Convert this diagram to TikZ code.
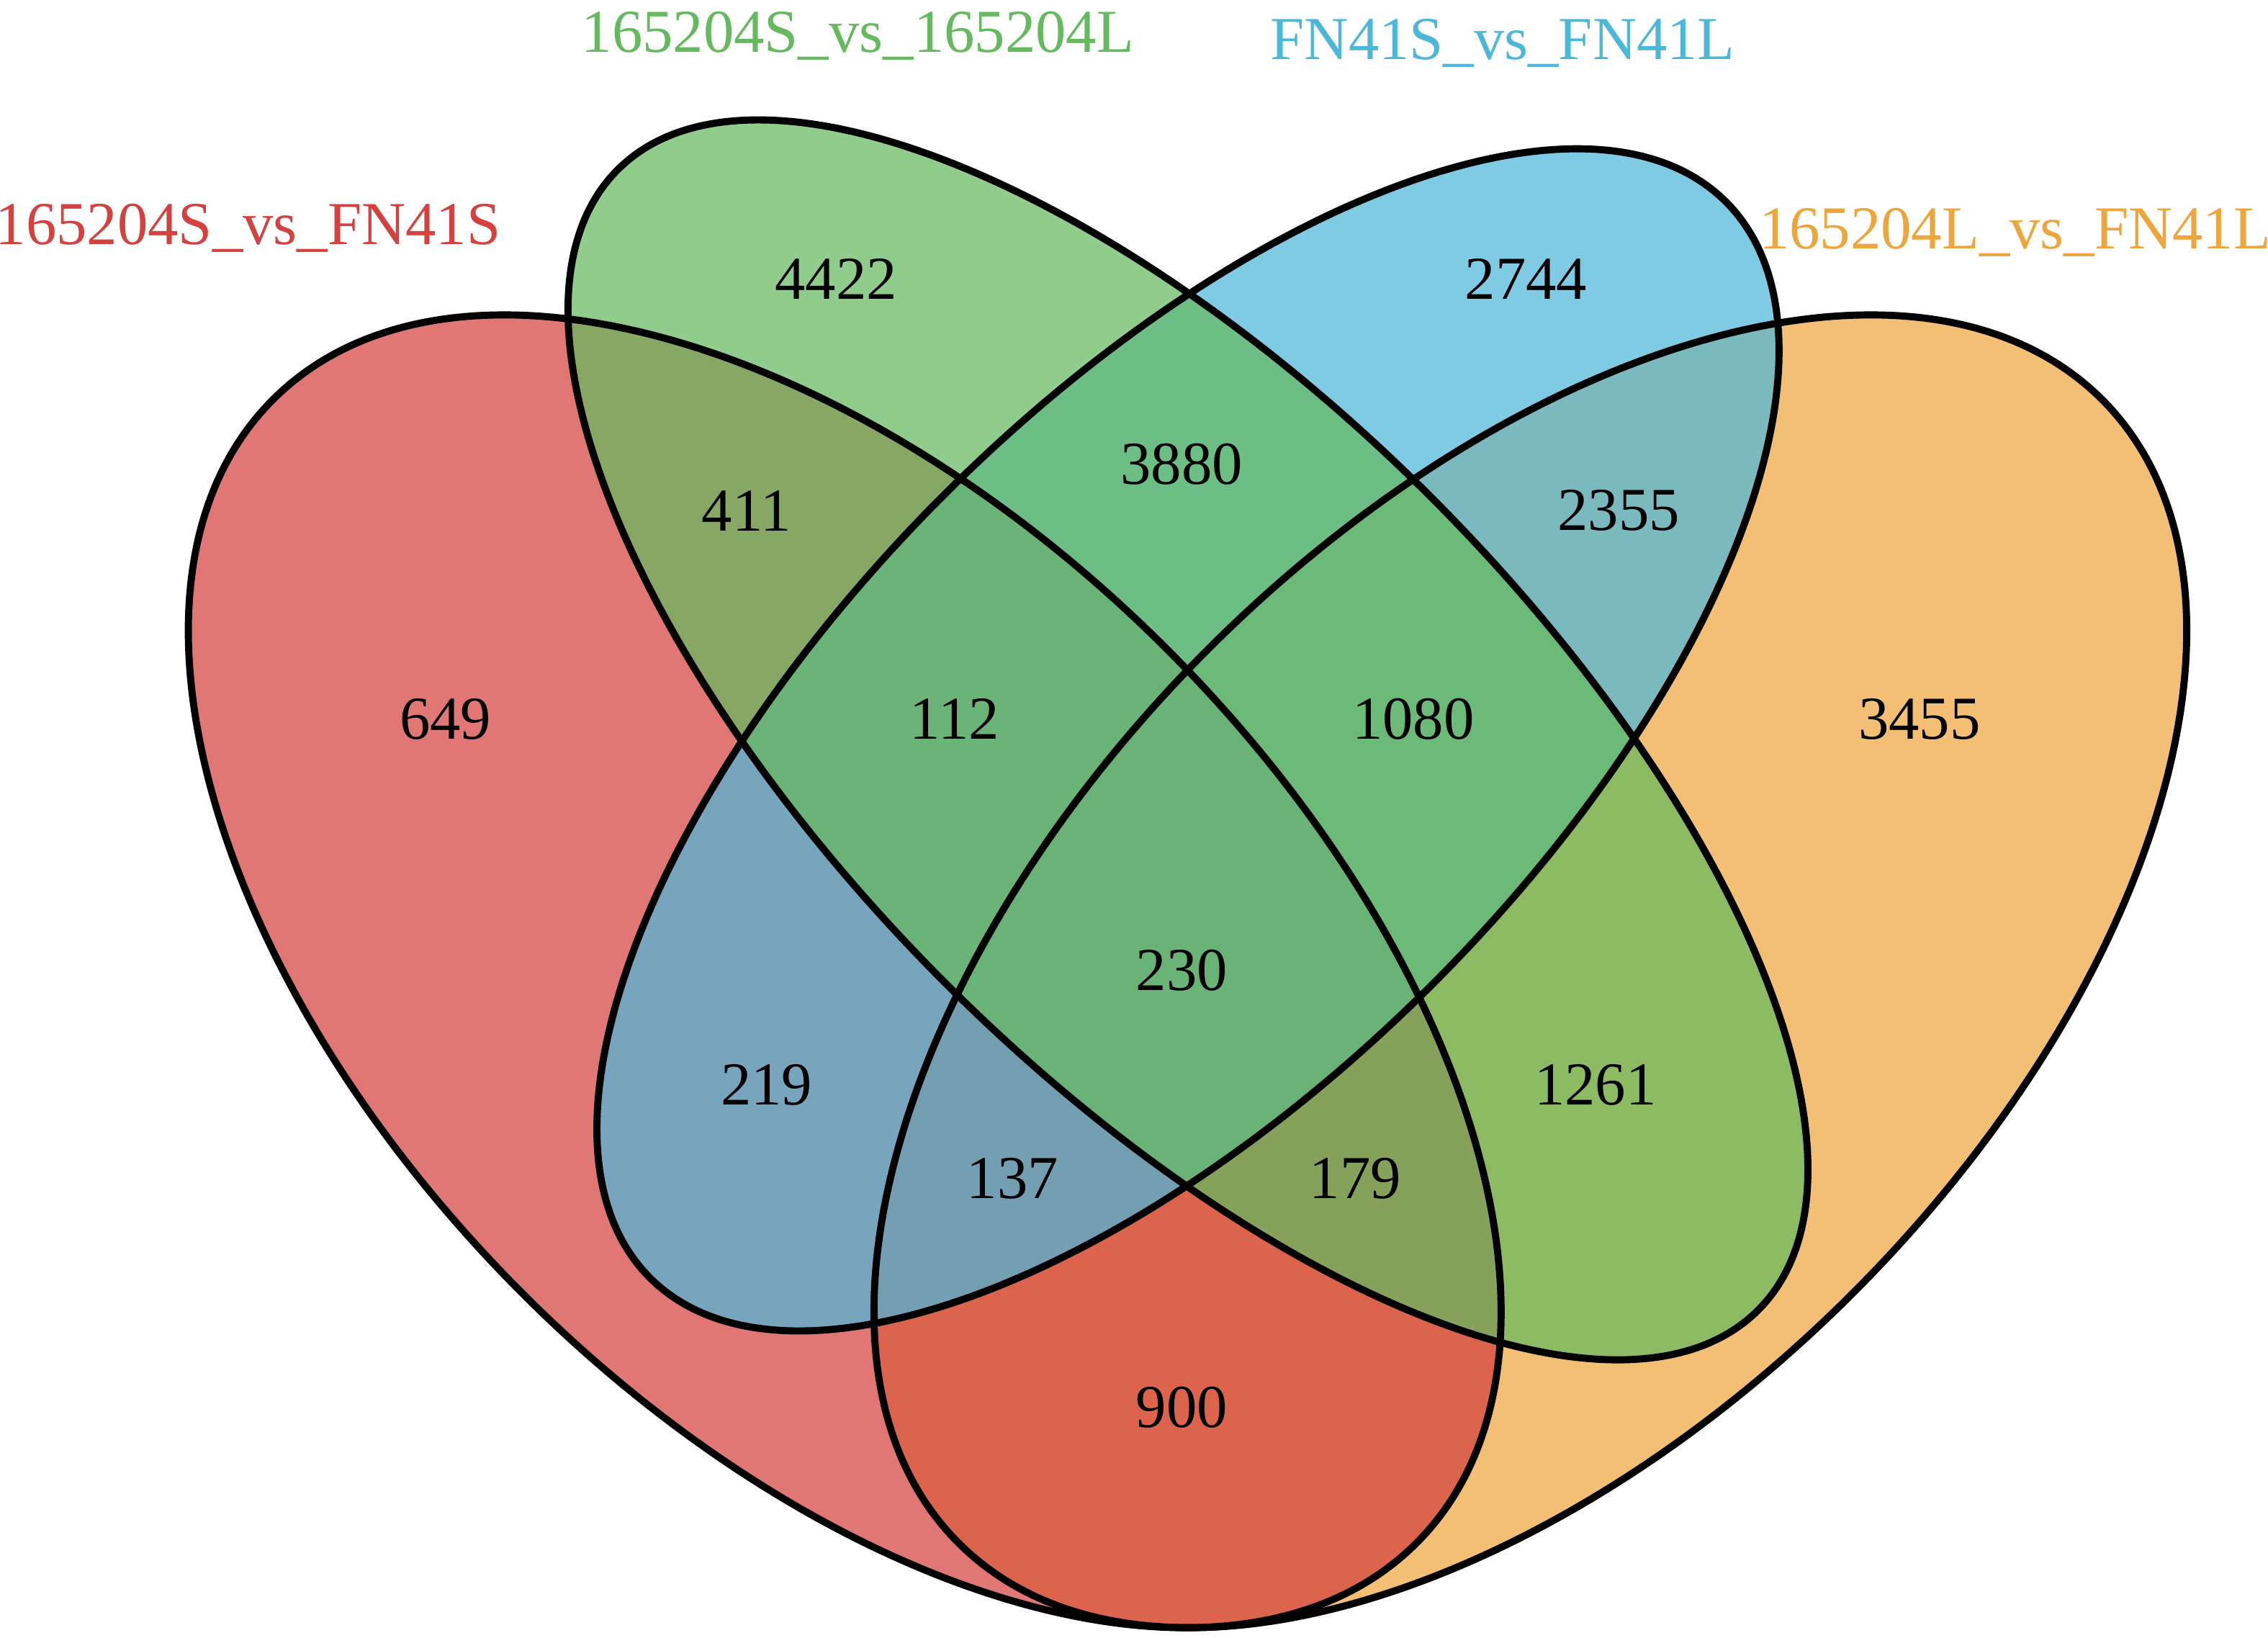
\documentclass[tikz,border=0pt]{standalone}
\usepackage{fontspec}
\setmainfont{Liberation Serif}
\definecolor{vred}{HTML}{D4423F}
\definecolor{vgreen}{HTML}{65BA5F}
\definecolor{vblue}{HTML}{4DB7D9}
\definecolor{vorange}{HTML}{EDA63E}

\begin{document}
\begin{tikzpicture}[font=\fontsize{12}{14}\selectfont,
        set/.style={fill opacity=0.72},
        rim/.style={line width=1.4pt,black},
        setname/.style={anchor=base,inner sep=0pt}]
    \useasboundingbox (0,0) rectangle (15.68,11.324);
    \coordinate (cR) at (5.84,4.609);
    \coordinate (cM) at (8.213,6.209);
    \coordinate (cO) at (10.58,4.609);
    % fills, back to front
    \fill[vorange,set,rotate around={45:(cO)}] (cO) ellipse (5.59 and 3.15);
    \fill[vred,set,rotate around={-45:(cR)}] (cR) ellipse (5.59 and 3.15);
    \fill[vblue,set,rotate around={45:(cM)}] (cM) ellipse (5.26 and 2.39);
    \fill[vgreen,set,rotate around={-45:(cM)}] (cM) ellipse (5.575 and 2.375);
    % outlines
    \draw[rim,rotate around={45:(cO)}] (cO) ellipse (5.59 and 3.15);
    \draw[rim,rotate around={-45:(cR)}] (cR) ellipse (5.59 and 3.15);
    \draw[rim,rotate around={45:(cM)}] (cM) ellipse (5.26 and 2.39);
    \draw[rim,rotate around={-45:(cM)}] (cM) ellipse (5.575 and 2.375);
    % set names
    \node[setname,vred] (nameR) at (1.715,9.634) {165204S\_vs\_FN41S};
    \node[setname,vgreen] (nameG) at (5.93,10.964) {165204S\_vs\_165204L};
    \node[setname,vblue] (nameB) at (10.39,10.914) {FN41S\_vs\_FN41L};
    \node[setname,vorange] (nameO) at (13.93,9.604) {165204L\_vs\_FN41L};
    % counts
    \node (g) at (5.78,9.394) {4422};
    \node (b) at (10.55,9.394) {2744};
    \node (rg) at (5.16,7.794) {411};
    \node (gb) at (8.17,8.114) {3880};
    \node (bo) at (11.19,7.794) {2355};
    \node (r) at (3.08,6.354) {649};
    \node (rgb) at (6.60,6.354) {112};
    \node (gbo) at (9.77,6.354) {1080};
    \node (o) at (13.27,6.354) {3455};
    \node (rgbo) at (8.17,4.614) {230};
    \node (rb) at (5.30,3.824) {219};
    \node (go) at (11.03,3.824) {1261};
    \node (rbo) at (7.00,3.174) {137};
    \node (rgo) at (9.37,3.174) {179};
    \node (ro) at (8.17,1.594) {900};
\end{tikzpicture}
\end{document}
